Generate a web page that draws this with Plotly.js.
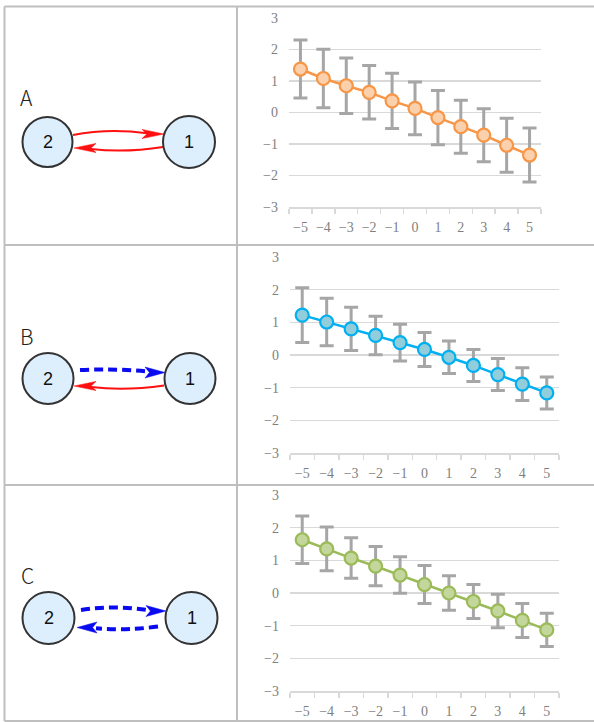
<!DOCTYPE html>
<html>
<head>
<meta charset="utf-8">
<script src="https://cdn.plot.ly/plotly-3.0.1.min.js"></script>
<style>html,body{margin:0;padding:0;background:#fff;}#chart{width:594px;height:722px;}</style>
</head>
<body>
<div id="chart"></div>
<script>
// ---- data ----
const categories = ["−5","−4","−3","−2","−1","0","1","2","3","4","5"];
const meanA = [1.38, 1.08, 0.85, 0.64, 0.37, 0.13, -0.16, -0.45, -0.72, -1.04, -1.35];
const errA  = [0.92, 0.93, 0.88, 0.85, 0.88, 0.84, 0.86, 0.84, 0.84, 0.86, 0.86];
const meanB = [1.22, 1.01, 0.80, 0.60, 0.38, 0.17, -0.07, -0.32, -0.60, -0.89, -1.16];
const errB  = [0.84, 0.73, 0.66, 0.59, 0.56, 0.52, 0.50, 0.49, 0.49, 0.50, 0.49];
const meanC = [1.63, 1.35, 1.07, 0.82, 0.55, 0.26, 0.00, -0.26, -0.55, -0.84, -1.13];
const errC  = [0.73, 0.67, 0.62, 0.60, 0.56, 0.58, 0.53, 0.52, 0.51, 0.52, 0.51];
const panelLabels = ["A", "B", "C"];
const nodeLabels = ["2", "1"];
const yTicks = [-3, -2, -1, 0, 1, 2, 3];

// ---- layout helpers ----
const W = 594, H = 722;
const px = v => v / W, py = v => 1 - v / H;
const tickFont = {family: 'Liberation Serif', size: 14, color: '#7F7F7F'};

function xAxis(x0, x1, anchor) {
  return {domain: [px(x0), px(x1)], type: 'category', range: [-0.5, 10.5],
    tickson: 'boundaries', ticks: 'outside', ticklen: 5, tickwidth: 1.5, tickcolor: '#D9D9D9',
    showline: true, linecolor: '#D9D9D9', linewidth: 1.5, showgrid: false, zeroline: false,
    tickangle: 0, tickfont: tickFont, ticklabelstandoff: 7, anchor: anchor, fixedrange: true};
}
function yAxis(yTop, yBot, anchor) {
  return {domain: [py(yBot), py(yTop)], range: [-3, 3], tickvals: yTicks,
    showgrid: true, gridcolor: '#D9D9D9', gridwidth: 1.5, zeroline: false, showline: false,
    ticks: '', tickfont: tickFont, ticklabelstandoff: 10, anchor: anchor, fixedrange: true};
}
function series(mean, err, line, fill, xa, ya) {
  return {type: 'scatter', mode: 'lines+markers', x: categories, y: mean,
    xaxis: xa, yaxis: ya, hoverinfo: 'skip', showlegend: false,
    line: {color: line, width: 2.5},
    marker: {size: 13, color: fill, line: {color: line, width: 2.2}},
    error_y: {type: 'data', array: err, symmetric: true, color: '#A6A6A6', thickness: 3, width: 7}};
}

const traces = [
  series(meanA, errA, '#F79646', '#FBD0AC', 'x', 'y'),
  series(meanB, errB, '#00B0F0', '#92CDDC', 'x2', 'y2'),
  series(meanC, errC, '#9BBB59', '#C3D69B', 'x3', 'y3'),
  {type: 'scatter', x: [], y: [], xaxis: 'x4', yaxis: 'y4', hoverinfo: 'skip', showlegend: false}
];

// ---- decorations (table, diagrams) in pixel coords via x4/y4 ----
const shapes = [];
const annotations = [];
const border = {color: '#BFBFBF', width: 2};
function ln(x0, y0, x1, y1) {
  shapes.push({type: 'line', xref: 'x4', yref: 'y4', x0, y0, x1, y1, line: border, layer: 'above'});
}
ln(4.5, 6.5, 594, 6.5);
ln(4.5, 245, 594, 245);
ln(4.5, 485, 594, 485);
ln(4.5, 721, 594, 721);
ln(4.5, 6.5, 4.5, 721);
ln(237, 6.5, 237, 721);

function circle(cx, cy, r) {
  shapes.push({type: 'circle', xref: 'x4', yref: 'y4', x0: cx - r, x1: cx + r, y0: cy - r, y1: cy + r,
    fillcolor: '#DDEEFD', line: {color: '#333333', width: 2}, layer: 'above'});
}
function curve(p, color, dashed) {
  shapes.push({type: 'path', xref: 'x4', yref: 'y4', path: p, layer: 'above',
    line: {color: color, width: dashed ? 4 : 2, dash: dashed ? '9px,5px' : 'solid'}});
}
function head(tx, ty, dir, len, hw, color) {
  // dir: +1 pointing right, -1 pointing left
  const bx = tx - dir * len, nx = tx - dir * len * 0.78;
  const p = `M ${tx} ${ty} L ${bx} ${ty - hw} L ${nx} ${ty} L ${bx} ${ty + hw} Z`;
  shapes.push({type: 'path', xref: 'x4', yref: 'y4', path: p, layer: 'above',
    fillcolor: color, line: {color: color, width: 0.5}});
}
function label(x, y, text, font) {
  annotations.push({xref: 'x4', yref: 'y4', x, y, text, showarrow: false,
    xanchor: 'center', yanchor: 'middle', font});
}
const letterFont = {family: 'Noto Sans CJK JP, sans-serif', size: 21, color: '#222', weight: 300};
const nodeFont = {family: 'Liberation Sans, Arial, sans-serif', size: 18, color: '#111'};
const RED = '#FF1010', BLUE = '#0A0AF0';

// Panel A
label(26, 97, panelLabels[0], letterFont);
curve('M 73 135 Q 108 128 147 133.2', RED, false);
head(164, 134, 1, 22, 4.6, RED);
curve('M 163 147 Q 125 153 91 149', RED, false);
head(74, 148, -1, 22, 4.6, RED);
circle(47.5, 142, 25); circle(189, 142, 26);
label(47.5, 142, nodeLabels[0], nodeFont); label(189, 142, nodeLabels[1], nodeFont);

// Panel B
label(26, 336, panelLabels[1], letterFont);
curve('M 80 370 Q 115 368.5 147 371.5', BLUE, true);
head(165, 372.5, 1, 20, 5.5, BLUE);
curve('M 164 385.5 Q 125 391 91 387', RED, false);
head(74, 386, -1, 22, 4.6, RED);
circle(48, 378.5, 25.5); circle(190, 378.5, 25.5);
label(48, 378.5, nodeLabels[0], nodeFont); label(190, 378.5, nodeLabels[1], nodeFont);

// Panel C
label(27, 575, panelLabels[2], letterFont);
curve('M 81 610 Q 115 605 147 610', BLUE, true);
head(166, 611, 1, 20, 5.5, BLUE);
curve('M 158 626.5 Q 125 631 96 628.3', BLUE, true);
head(77, 627.5, -1, 20, 5.5, BLUE);
circle(48.5, 618, 26); circle(191.5, 618, 26);
label(48.5, 618, nodeLabels[0], nodeFont); label(191.5, 618, nodeLabels[1], nodeFont);

const layout = {
  width: W, height: H, margin: {l: 0, r: 0, t: 0, b: 0},
  paper_bgcolor: '#FFFFFF', plot_bgcolor: 'rgba(0,0,0,0)', showlegend: false,
  xaxis: xAxis(289, 541, 'y'), yaxis: yAxis(18, 207, 'x'),
  xaxis2: xAxis(290, 559, 'y2'), yaxis2: yAxis(257, 453, 'x2'),
  xaxis3: xAxis(290, 559, 'y3'), yaxis3: yAxis(495, 691, 'x3'),
  xaxis4: {domain: [0, 1], range: [0, W], visible: false, fixedrange: true, anchor: 'y4'},
  yaxis4: {domain: [0, 1], range: [H, 0], visible: false, fixedrange: true, anchor: 'x4'},
  shapes, annotations
};
Plotly.newPlot('chart', traces, layout, {displayModeBar: false, staticPlot: true});
</script>
</body>
</html>
